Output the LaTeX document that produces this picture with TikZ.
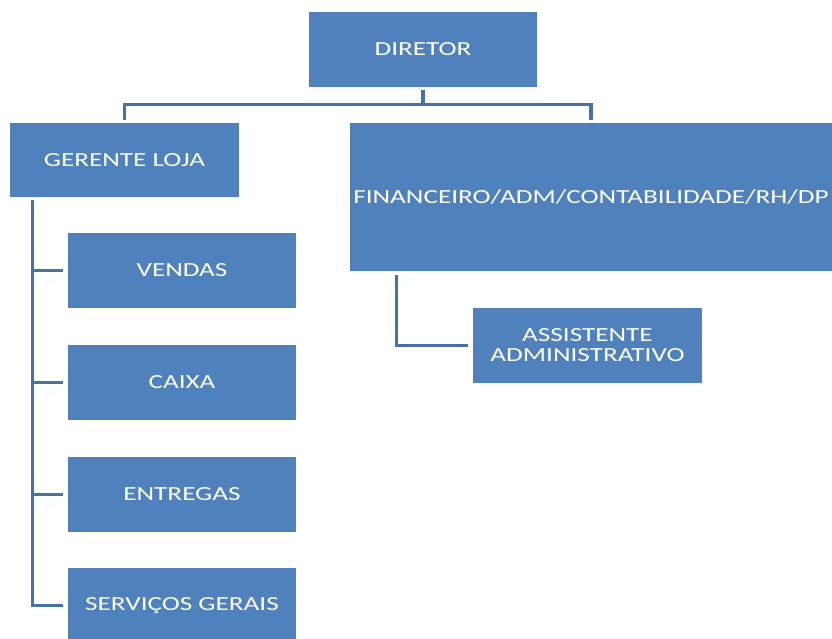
\documentclass[tikz,border=0pt]{standalone}
\usepackage{fontspec}
\setmainfont{Carlito}[FakeStretch=1.36]
\definecolor{boxblue}{RGB}{79,129,189}
\definecolor{lineblue}{RGB}{69,114,167}
\begin{document}
\begin{tikzpicture}[x=1pt,y=-1pt,
  box/.style={fill=boxblue, text=white, inner sep=0pt, align=center,
              font=\fontsize{20}{20}\selectfont},
  conn/.style={draw=lineblue, line width=3.3pt}]
\useasboundingbox (0,0) rectangle (832,639);
\clip (0,0) rectangle (832,639);
\node[box, minimum width=228pt, minimum height=75pt] (dir) at (423,49.5) {DIRETOR};
\node[box, minimum width=229pt, minimum height=74pt] (ger) at (124.5,160) {GERENTE LOJA};
\node[box, minimum width=482pt, minimum height=148pt] (fin) at (591,197) {FINANCEIRO/ADM/CONTABILIDADE/RH/DP};
\node[box, minimum width=228pt, minimum height=75pt] (ven) at (182,270.5) {VENDAS};
\node[box, minimum width=228pt, minimum height=75pt] (cai) at (182,382.5) {CAIXA};
\node[box, minimum width=228pt, minimum height=75pt] (ent) at (182,494.5) {ENTREGAS};
\node[box, minimum width=228pt, minimum height=75pt] (ser) at (182,605.5) {SERVIÇOS GERAIS};
\node[box, minimum width=229pt, minimum height=75pt] (ass) at (587.5,345.5) {ASSISTENTE\\ADMINISTRATIVO};
\draw[conn, shorten <=3pt, shorten >=3pt] (dir.south) -- ++(0,17) -| (ger.north);
\draw[conn, shorten >=3pt] (dir.south) ++(0,17) -| (fin.north);
\foreach \t in {ven,cai,ent,ser}
  \draw[conn, shorten <=3pt, shorten >=5pt] ([xshift=22.5pt]ger.south west) |- (\t.west);
\draw[conn, shorten <=4pt, shorten >=5pt] ([xshift=47pt]fin.south west) |- (ass.west);
\end{tikzpicture}
\end{document}
